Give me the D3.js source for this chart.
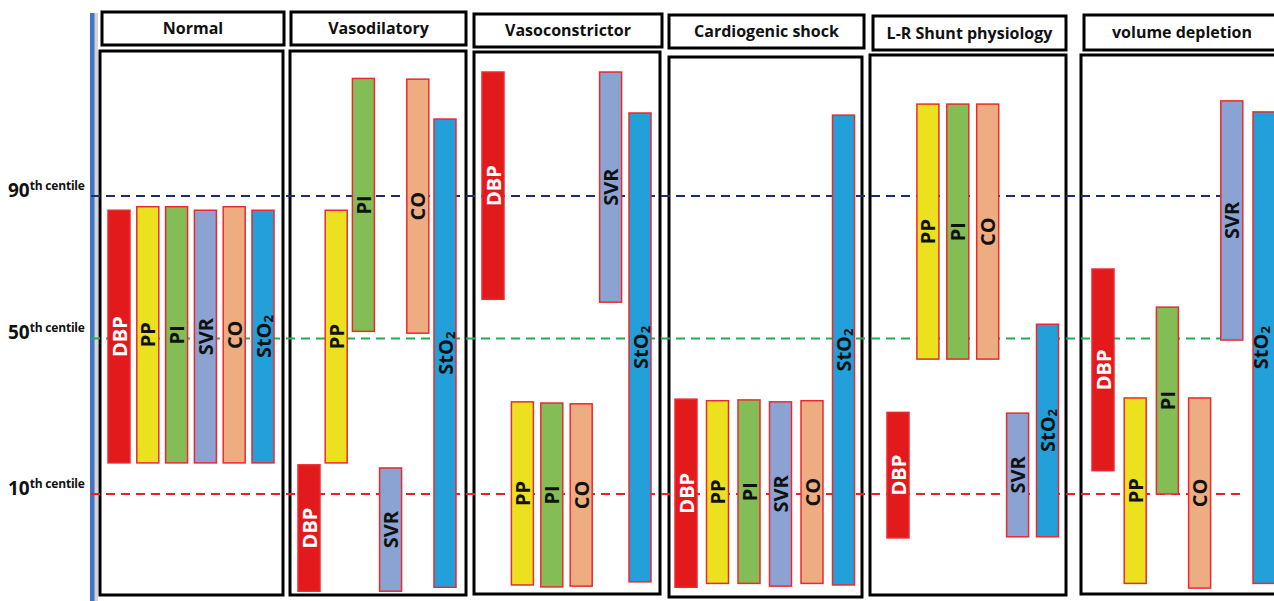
<!DOCTYPE html>
<html>
<head>
<meta charset="utf-8">
<script src="https://cdn.jsdelivr.net/npm/d3@7"></script>
<style>
  html, body { margin: 0; padding: 0; background: #fff; }
  svg { display: block; }
  text { font-family: "Open Sans", "Liberation Sans", sans-serif; font-weight: 700; }
</style>
</head>
<body>
<svg id="chart" width="1274" height="601"></svg>
<script>
// ---------- DATA ----------
const categories = ["DBP", "PP", "PI", "SVR", "CO", "StO2"];
const panelTitles = ["Normal", "Vasodilatory", "Vasoconstrictor", "Cardiogenic shock", "L-R Shunt physiology", "volume depletion"];

// left-to-right order of bars in each panel
const orderStandard = ["DBP", "PP", "PI", "SVR", "CO", "StO2"];
const orderSwapped  = ["DBP", "PP", "PI", "CO", "SVR", "StO2"];

// centile ranges (low / high) in category order: DBP, PP, PI, SVR, CO, StO2
const normalLow   = [18, 18, 18, 18, 18, 18];
const normalHigh  = [86, 87, 87, 86, 87, 86];
const vasodilLow  = [-15, 18, 52, -15, 51.5, -14];
const vasodilHigh = [17.5, 86, 123, 16.7, 122.8, 111.6];
const vasoconLow  = [61, -13.4, -13.9, 60.2, -13.7, -12.6];
const vasoconHigh = [124.8, 33.7, 33.4, 124.8, 33.2, 113.3];
const cardioLow   = [-14, -13, -13, -13.7, -13, -13.4];
const cardioHigh  = [34.4, 34, 34.2, 33.7, 34, 112.7];
const shuntLow    = [-1.3, 44.7, 44.7, -1, 44.7, -1];
const shuntHigh   = [31, 115.8, 115.8, 30.8, 115.8, 54];
const volumeLow   = [16, -13, 10, 49.6, -14.2, -13];
const volumeHigh  = [69.5, 34.7, 58.8, 116.7, 34.7, 113.6];

const centileTicks = [90, 50, 10];
const centileTickLabels = ["90", "50", "10"];

// ---------- STYLE / LAYOUT ----------
const catColors = { DBP: "#E31A1C", PP: "#ECE11F", PI: "#84BC55", SVR: "#8AA3D2", CO: "#EDAD80", StO2: "#239FD9" };
const labelColors = { DBP: "#ffffff" };
const centileColors = { 90: "#1F2B6E", 50: "#1DAF50", 10: "#E8202A" };

const panelLayout = [
  { title: [102, 12, 284, 45],  box: [100, 51, 283, 595],  bars: [119, 263],   order: orderStandard, low: normalLow,  high: normalHigh },
  { title: [291, 12, 466, 45],  box: [290, 51, 466, 595],  bars: [309, 445],   order: orderStandard, low: vasodilLow, high: vasodilHigh },
  { title: [474, 14, 662, 47],  box: [474, 52, 660, 594],  bars: [493, 640],   order: orderSwapped,  low: vasoconLow, high: vasoconHigh },
  { title: [669, 15, 864, 48],  box: [669, 57, 862, 597],  bars: [686, 843.5], order: orderStandard, low: cardioLow,  high: cardioHigh },
  { title: [873, 16, 1066, 50], box: [870, 55, 1066, 595], bars: [898, 1047.5],order: orderSwapped,  low: shuntLow,   high: shuntHigh },
  { title: [1084, 15, 1290, 50],box: [1081, 55, 1290, 594],bars: [1103, 1264], order: orderSwapped,  low: volumeLow,  high: volumeHigh }
];

const svg = d3.select("#chart");
svg.append("rect").attr("width", 1274).attr("height", 601).attr("fill", "#fff");

// centile scale (piecewise)
const y = d3.scaleLinear().domain([10, 50, 90]).range([494, 338.5, 196]);

// vertical axis line (blue with shadow)
svg.append("rect").attr("x", 94).attr("y", 13).attr("width", 4).attr("height", 588).attr("fill", "#d4d4d4");
svg.append("rect").attr("x", 90).attr("y", 13).attr("width", 4.5).attr("height", 588).attr("fill", "#4472C4");

// panel boxes and titles
panelLayout.forEach((p, i) => {
  const [bx0, by0, bx1, by1] = p.box;
  svg.append("rect").attr("x", bx0).attr("y", by0).attr("width", bx1 - bx0).attr("height", by1 - by0)
    .attr("fill", "#fff").attr("stroke", "#000").attr("stroke-width", 3);
  const [tx0, ty0, tx1, ty1] = p.title;
  svg.append("rect").attr("x", tx0).attr("y", ty0).attr("width", tx1 - tx0).attr("height", ty1 - ty0)
    .attr("fill", "#fff").attr("stroke", "#000").attr("stroke-width", 3);
  svg.append("text").attr("x", i === 5 ? 1182 : (tx0 + tx1) / 2).attr("y", (ty0 + ty1) / 2 + 5.5)
    .attr("text-anchor", "middle").attr("font-size", 16).attr("fill", "#111")
    .text(panelTitles[i]);
});

// centile dashed lines
centileTicks.forEach(t => {
  svg.append("line").attr("x1", 91).attr("x2", 1242).attr("y1", y(t)).attr("y2", y(t))
    .attr("stroke", centileColors[t]).attr("stroke-width", 2).attr("stroke-dasharray", "9,6");
});

// centile labels
centileTicks.forEach((t, i) => {
  const txt = svg.append("text").attr("x", 8).attr("y", y(t) + 0.5).attr("fill", "#111");
  txt.append("tspan").attr("font-size", 19).text(centileTickLabels[i]);
  txt.append("tspan").attr("font-size", 12).attr("dy", -7).attr("letter-spacing", -0.2).text("th centile");
});

// bars
const barW = 22;
panelLayout.forEach(p => {
  const x = d3.scalePoint().domain(p.order).range(p.bars);
  const rows = p.order.map(c => {
    const k = categories.indexOf(c);
    return { cat: c, low: p.low[k], high: p.high[k] };
  });
  const g = svg.append("g");
  g.selectAll("rect").data(rows).join("rect")
    .attr("x", d => x(d.cat) - barW / 2)
    .attr("y", d => y(d.high))
    .attr("width", barW)
    .attr("height", d => y(d.low) - y(d.high))
    .attr("fill", d => catColors[d.cat])
    .attr("stroke", "#EA2A2F").attr("stroke-width", 1.5);

  g.selectAll("text").data(rows).join("text")
    .attr("transform", d => `translate(${Math.min(x(d.cat) + 7.5, 1268)},${(y(d.low) + y(d.high)) / 2}) rotate(-90)`)
    .attr("text-anchor", "middle")
    .attr("font-size", 20)
    .attr("fill", d => labelColors[d.cat] || "#111")
    .each(function (d) {
      const t = d3.select(this);
      if (d.cat === "StO2") {
        t.append("tspan").text("StO");
        t.append("tspan").attr("font-size", 13).attr("dy", 2).text("2");
      } else {
        t.text(d.cat);
      }
    });
});
</script>
</body>
</html>
